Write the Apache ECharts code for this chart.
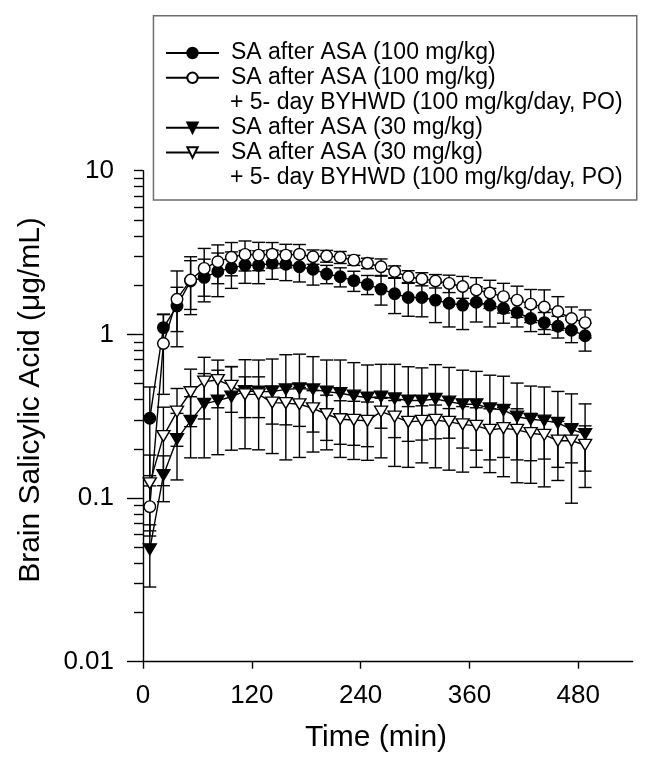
<!DOCTYPE html>
<html>
<head>
<meta charset="utf-8">
<script src="https://cdn.jsdelivr.net/npm/echarts@6.0.0/dist/echarts.min.js"></script>
<style>
html,body{margin:0;padding:0;background:#fff;}
#chart{width:651px;height:761px;}
</style>
</head>
<body>
<div id="chart"></div>
<script>
// ---- data ----
const times = [7.5,22.5,37.5,52.5,67.5,82.5,97.5,112.5,127.5,142.5,157.5,172.5,187.5,202.5,217.5,232.5,247.5,262.5,277.5,292.5,307.5,322.5,337.5,352.5,367.5,382.5,397.5,412.5,427.5,442.5,457.5,472.5,487.5];

const sa100Mean = [0.307,1.10,1.49,2.12,2.23,2.42,2.55,2.65,2.64,2.72,2.68,2.59,2.50,2.34,2.25,2.13,2.02,1.89,1.77,1.68,1.68,1.62,1.55,1.51,1.57,1.51,1.44,1.36,1.25,1.18,1.12,1.06,0.98];
const sa100Sd   = [0.17,0.22,0.45,0.70,0.65,0.72,0.64,0.60,0.60,0.55,0.55,0.50,0.50,0.30,0.30,0.30,0.27,0.38,0.43,0.39,0.40,0.44,0.44,0.44,0.38,0.40,0.27,0.25,0.21,0.18,0.17,0.17,0.19];

const sa100ByMean = [0.0886,0.88,1.64,2.15,2.53,2.78,2.96,3.08,3.05,3.09,3.05,3.09,2.98,3.01,2.96,2.84,2.72,2.59,2.42,2.25,2.18,2.12,2.05,1.96,1.87,1.79,1.70,1.62,1.53,1.47,1.38,1.25,1.18];
const sa100BySd   = [0.03,0.45,0.80,0.83,0.82,0.74,0.68,0.64,0.60,0.55,0.50,0.45,0.30,0.25,0.25,0.20,0.20,0.30,0.20,0.20,0.20,0.20,0.25,0.30,0.35,0.35,0.35,0.35,0.35,0.40,0.32,0.22,0.23];

const sa30Mean = [0.0486,0.138,0.229,0.296,0.376,0.394,0.416,0.45,0.447,0.447,0.461,0.467,0.461,0.447,0.437,0.422,0.410,0.416,0.406,0.394,0.394,0.403,0.388,0.374,0.374,0.353,0.345,0.314,0.303,0.297,0.288,0.263,0.246];
const sa30Sd   = [0.02,0.043,0.10,0.12,0.20,0.21,0.22,0.25,0.25,0.26,0.29,0.29,0.27,0.25,0.26,0.25,0.24,0.24,0.25,0.24,0.23,0.25,0.24,0.23,0.22,0.21,0.21,0.19,0.18,0.18,0.16,0.17,0.13];

const sa30ByMean = [0.123,0.239,0.337,0.443,0.514,0.526,0.484,0.43,0.43,0.383,0.38,0.374,0.353,0.325,0.303,0.30,0.296,0.337,0.314,0.292,0.296,0.30,0.292,0.282,0.276,0.261,0.267,0.261,0.249,0.243,0.224,0.224,0.211];
const sa30BySd   = [0.06,0.12,0.13,0.17,0.21,0.17,0.15,0.12,0.12,0.10,0.10,0.10,0.10,0.10,0.09,0.09,0.09,0.07,0.08,0.07,0.07,0.07,0.06,0.08,0.08,0.09,0.09,0.09,0.08,0.07,0.07,0.06,0.065];

const seriesNames = [
  'SA after ASA (100 mg/kg)',
  'SA after ASA (100 mg/kg)\n+ 5- day BYHWD (100 mg/kg/day, PO)',
  'SA after ASA (30 mg/kg)',
  'SA after ASA (30 mg/kg)\n+ 5- day BYHWD (100 mg/kg/day, PO)'
];
const xTicks = [0,120,240,360,480];
const yTickLabels = ['0.01','0.1','1','10'];
const yMajorLog = [-2,-1,0];
const yMinorLog = [];
[-2,-1,0].forEach(d => [2,3,4,5,6,7,8,9].forEach(k => yMinorLog.push(Math.log10(k) + d)));
yMinorLog.push(1);
const xTitle = 'Time (min)';
const yTitle = 'Brain Salicylic Acid (\u03bcg/mL)';

// ---- styles ----
const FONT = '"Liberation Sans", Arial, sans-serif';
const LW = 1.4;
const TRI_DOWN = 'path://M0,0L12,0L6,10Z';

function pairs(means){ return times.map((t,i)=>[t, means[i]]); }
function bars(means, sds){ return times.map((t,i)=>[t, means[i]-sds[i], means[i]+sds[i]]); }

function renderBar(params, api){
  const x = api.value(0);
  const pLo = api.coord([x, api.value(1)]);
  const pHi = api.coord([x, api.value(2)]);
  const w = 6.5;
  const st = {stroke:'#000', lineWidth:LW};
  return {type:'group', children:[
    {type:'line', shape:{x1:pLo[0], y1:pLo[1], x2:pHi[0], y2:pHi[1]}, style:st},
    {type:'line', shape:{x1:pLo[0]-w, y1:pLo[1], x2:pLo[0]+w, y2:pLo[1]}, style:st},
    {type:'line', shape:{x1:pHi[0]-w, y1:pHi[1], x2:pHi[0]+w, y2:pHi[1]}, style:st}
  ]};
}

function barSeries(means, sds){
  return {type:'custom', renderItem:renderBar, data:bars(means, sds), z:1, silent:true,
    encode:{x:0, y:[1,2]}, xAxisIndex:0, yAxisIndex:0, animation:false};
}
function lineSeries(name, means, symbol, size, fill){
  return {type:'line', name:name, data:pairs(means), symbol:symbol, symbolSize:size,
    showAllSymbol:true, xAxisIndex:0, yAxisIndex:0, z:3, animation:false,
    lineStyle:{color:'#000', width:LW},
    itemStyle:{color:fill, borderColor:'#000', borderWidth:LW, opacity:1}};
}

const legendCommon = {
  orient:'vertical', left:165, padding:0, itemGap:0.8, itemWidth:53, itemHeight:13,
  selectedMode:false,
  formatter: n => n.split('\n')[0],
  textStyle:{fontSize:23, fontFamily:FONT, color:'#000', lineHeight:24, padding:[0,0,0,7]}
};

const chart = echarts.init(document.getElementById('chart'), null, {renderer:'canvas'});
chart.setOption({
  animation:false,
  backgroundColor:'#fff',
  grid:{left:143, right:18.3, top:170.7, bottom:99.3, containLabel:false},
  xAxis:{type:'value', min:0, max:540,
    axisLine:{show:true, onZero:false, lineStyle:{color:'#000', width:LW}},
    axisTick:{show:true, inside:false, length:7, customValues:xTicks, lineStyle:{color:'#000', width:LW}},
    axisLabel:{customValues:xTicks, fontSize:26, fontFamily:FONT, color:'#000', margin:21},
    splitLine:{show:false}},
  yAxis:[
    {type:'log', logBase:10, min:0.01, max:10, position:'left',
      axisLine:{show:true, onZero:false, lineStyle:{color:'#000', width:LW}},
      axisTick:{show:false},
      axisLabel:{fontSize:26, fontFamily:FONT, color:'#000', margin:29,
        formatter:(v)=>{ const i = Math.round(Math.log10(v)) + 2; return yTickLabels[i] || ''; }},
      splitLine:{show:false}, minorTick:{show:false}},
    {type:'value', min:-2, max:1, position:'left', offset:0,
      axisLine:{show:false}, axisLabel:{show:false}, splitLine:{show:false},
      axisTick:{show:true, inside:false, length:16, customValues:yMajorLog, lineStyle:{color:'#000', width:LW}}},
    {type:'value', min:-2, max:1, position:'left', offset:0,
      axisLine:{show:false}, axisLabel:{show:false}, splitLine:{show:false},
      axisTick:{show:true, inside:false, length:9, customValues:yMinorLog, lineStyle:{color:'#000', width:LW}}}
  ],
  legend:[
    Object.assign({}, legendCommon, {data:[seriesNames[0], seriesNames[1]], top:41}),
    Object.assign({}, legendCommon, {data:[seriesNames[2], seriesNames[3]], top:115.7})
  ],
  graphic:[
    {type:'rect', left:152.7, top:15, shape:{width:483.3, height:184.3},
      style:{fill:'rgba(255,255,255,0)', stroke:'#6e6e6e', lineWidth:1.5}, z:0, silent:true},
    {type:'text', x:230, y:102.9, silent:true,
      style:{text:seriesNames[1].split('\n')[1], fontSize:23, fontFamily:FONT, fill:'#000', align:'left', verticalAlign:'middle'}},
    {type:'text', x:230, y:177.3, silent:true,
      style:{text:seriesNames[3].split('\n')[1], fontSize:23, fontFamily:FONT, fill:'#000', align:'left', verticalAlign:'middle'}},
    {type:'text', x:376, y:738, silent:true,
      style:{text:xTitle, fontSize:30, fontFamily:FONT, fill:'#000', align:'center', verticalAlign:'middle'}},
    {type:'text', x:31, y:400, rotation:Math.PI/2, silent:true,
      style:{text:yTitle, fontSize:30, fontFamily:FONT, fill:'#000', align:'center', verticalAlign:'middle'}}
  ],
  series:[
    barSeries(sa100Mean, sa100Sd),
    barSeries(sa100ByMean, sa100BySd),
    barSeries(sa30Mean, sa30Sd),
    barSeries(sa30ByMean, sa30BySd),
    lineSeries(seriesNames[0], sa100Mean, 'circle', 11.5, '#000'),
    lineSeries(seriesNames[1], sa100ByMean, 'circle', 11.5, '#fff'),
    lineSeries(seriesNames[2], sa30Mean, TRI_DOWN, [13,11], '#000'),
    lineSeries(seriesNames[3], sa30ByMean, TRI_DOWN, [13,11], '#fff')
  ]
});
</script>
</body>
</html>
